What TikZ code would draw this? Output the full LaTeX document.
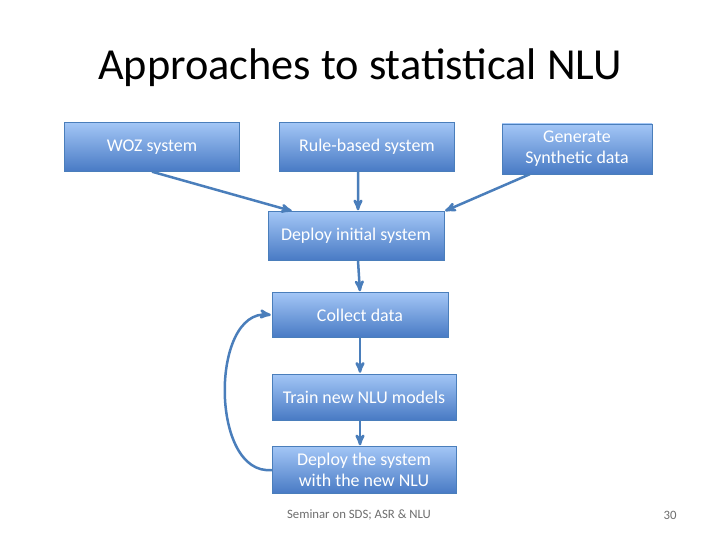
\documentclass[tikz,border=0pt]{standalone}
\usepackage{fontspec}
\setmainfont{Carlito}
\usetikzlibrary{arrows}
\definecolor{boxtop}{RGB}{163,198,246}
\definecolor{boxbot}{RGB}{72,122,196}
\definecolor{edgeblue}{RGB}{74,126,187}
\definecolor{footgray}{RGB}{110,110,110}

\begin{document}
\begin{tikzpicture}[x=1bp,y=-1bp,>=stealth',shorten >=1pt,
  box/.style={rectangle,draw=edgeblue,top color=boxtop,bottom color=boxbot,
    text=white,font=\fontsize{18}{21}\selectfont,align=center,inner sep=0pt},
  link/.style={->,draw=edgeblue,line width=2.5bp}]

  \useasboundingbox[fill=white] (0,0) rectangle (720,540);

  \node (title) at (360,68) {\fontsize{44.5}{52}\selectfont Approaches to statistical NLU};

  \node[box,minimum width=175bp,minimum height=49bp] (woz) at (152,147) {WOZ system};
  \node[box,minimum width=175bp,minimum height=49bp] (rule) at (367,147) {Rule-based system};
  \node[box,minimum width=150bp,minimum height=50bp] (gen) at (577,149) {Generate\\Synthetic data};
  \node[box,minimum width=176bp,minimum height=49bp] (dinit) at (356,236) {Deploy initial system};
  \node[box,minimum width=176bp,minimum height=45bp] (collect) at (360,315) {Collect data};
  \node[box,minimum width=184bp,minimum height=46bp] (train) at (364,397) {Train new NLU models};
  \node[box,minimum width=184bp,minimum height=47bp] (dsys) at (364,470) {Deploy the system\\with the new NLU};

  \node[text=footgray,font=\fontsize{12.8}{15}\selectfont] (foot) at (359,515) {Seminar on SDS; ASR \& NLU};
  \node[text=footgray,font=\fontsize{12.8}{15}\selectfont] (page) at (670,515) {30};

  \path[every edge/.style=link]
    (woz.south) edge ([xshift=25bp]dinit.north west)
    ([xshift=-9bp]rule.south) edge ([xshift=2bp]dinit.north)
    ([xshift=28bp]gen.south west) edge (dinit.north east)
    ([xshift=2bp]dinit.south) edge (collect.north)
    (collect.south) edge (collect.south |- train.north)
    (collect.south |- train.south) edge (collect.south |- dsys.north);
  % loop back from the deployed system
  \draw[link] (dsys.west) .. controls +(-62bp,-6bp) and +(-62bp,6bp) .. (collect.west);
\end{tikzpicture}
\end{document}
